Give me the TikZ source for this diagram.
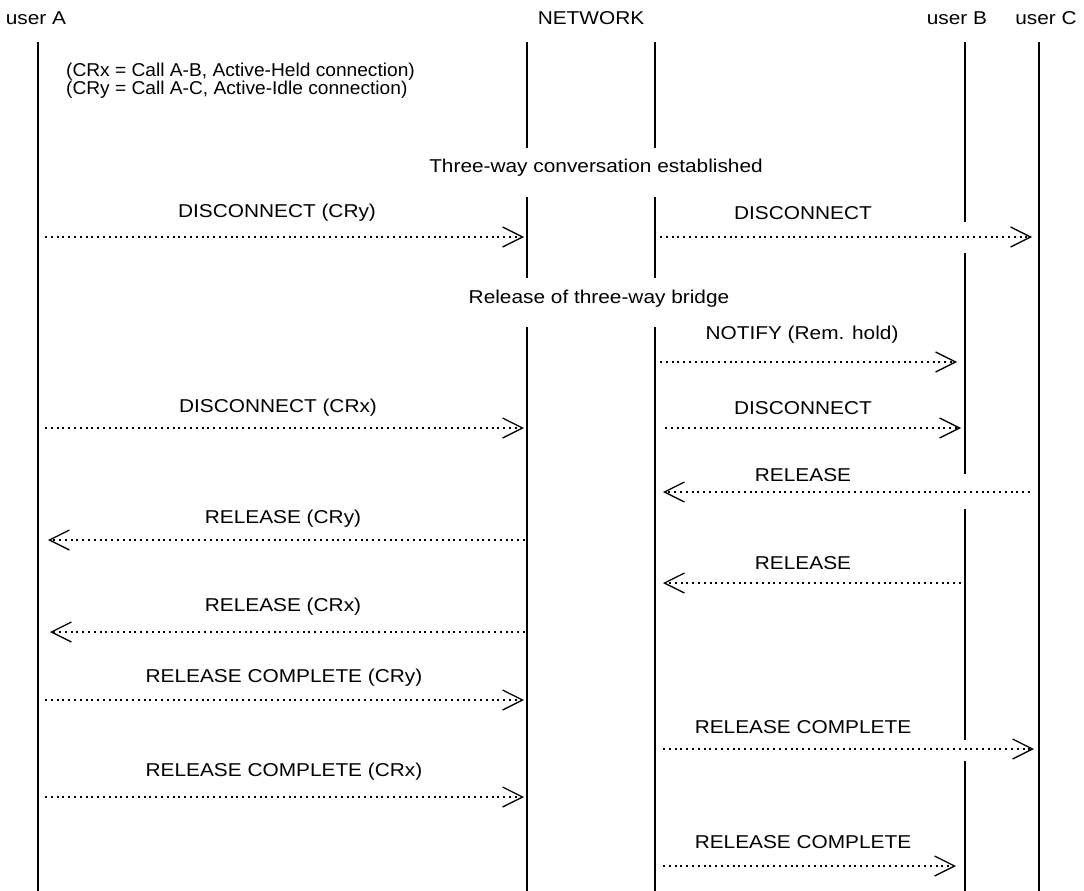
\documentclass[tikz,border=0pt]{standalone}
\usepackage{fontspec}
\setmainfont{Liberation Sans}[FakeStretch=1.12]
\newfontfamily\cmtfont{Liberation Sans}[FakeStretch=1.03]
\usetikzlibrary{arrows.meta}
\tikzset{
  life/.style={line width=1.6pt, black},
  msg/.style={line width=2.2pt, dash pattern=on 2pt off 3.8pt,
    -{Straight Barb[length=20pt,width=20pt,line width=1.3pt]}},
  lbl/.style={inner sep=0pt, font=\fontsize{18.6}{18}\selectfont},
}
\begin{document}
\begin{tikzpicture}[x=1pt,y=-1pt]
\useasboundingbox (0,0) rectangle (1084,891);
% headers
\node[lbl] (hA) at (36,18) {user A};
\node[lbl] (hN) at (591,18) {NETWORK};
\node[lbl] (hB) at (957,18) {user B};
\node[lbl] (hC) at (1046,18) {user C};
% lifelines
\draw[life] (38,42) -- (38,891);
\draw[life] (527,42) -- (527,148) (527,197) -- (527,278) (527,327) -- (527,891);
\draw[life] (655,42) -- (655,148) (655,197) -- (655,278) (655,327) -- (655,891);
\draw[life] (965,42) -- (965,222) (965,253) -- (965,474) (965,509) -- (965,740) (965,761) -- (965,891);
\draw[life] (1039,42) -- (1039,891);
% comments
\node[lbl, anchor=west, align=left, font=\fontsize{18.6}{18}\cmtfont] (cm) at (66,81) {(CRx = Call A-B, Active-Held connection)\\(CRy = Call A-C, Active-Idle connection)};
\node[lbl] (t1) at (596,168) {Three-way conversation established};
\node[lbl] (t2) at (599,299) {Release of three-way bridge};
% coordinates
\coordinate (a1) at (45,237);   \coordinate (b1) at (524,237);
\coordinate (a2) at (660,237);  \coordinate (b2) at (1032,237);
\coordinate (a3) at (660,362);  \coordinate (b3) at (957,362);
\coordinate (a4) at (45,428);   \coordinate (b4) at (524,428);
\coordinate (a5) at (665,428);  \coordinate (b5) at (961,428);
\coordinate (a6) at (1030,492); \coordinate (b6) at (663,492);
\coordinate (a7) at (525,540);  \coordinate (b7) at (48,540);
\coordinate (a8) at (961,583);  \coordinate (b8) at (663,583);
\coordinate (a9) at (525,632);  \coordinate (b9) at (50,632);
\coordinate (a10) at (45,700);  \coordinate (b10) at (524,700);
\coordinate (a11) at (663,749); \coordinate (b11) at (1034,749);
\coordinate (a12) at (45,797);  \coordinate (b12) at (524,797);
\coordinate (a13) at (663,866); \coordinate (b13) at (956,866);
% messages
\draw[msg] (a1) -- (b1);  \node[lbl] (l1) at (277,213) {DISCONNECT (CRy)};
\draw[msg] (a2) -- (b2);  \node[lbl] (l2) at (803,213) {DISCONNECT};
\draw[msg] (a3) -- (b3);  \node[lbl] (l3) at (802,335) {NOTIFY (Rem. hold)};
\draw[msg] (a4) -- (b4);  \node[lbl] (l4) at (278,408) {DISCONNECT (CRx)};
\draw[msg] (a5) -- (b5);  \node[lbl] (l5) at (803,408) {DISCONNECT};
\draw[msg] (a6) -- (b6);  \node[lbl] (l6) at (803,475) {RELEASE};
\draw[msg] (a7) -- (b7);  \node[lbl] (l7) at (283,519) {RELEASE (CRy)};
\draw[msg] (a8) -- (b8);  \node[lbl] (l8) at (803,563) {RELEASE};
\draw[msg] (a9) -- (b9);  \node[lbl] (l9) at (283,607) {RELEASE (CRx)};
\draw[msg] (a10) -- (b10); \node[lbl] (l10) at (284,678) {RELEASE COMPLETE (CRy)};
\draw[msg] (a11) -- (b11); \node[lbl] (l11) at (803,727) {RELEASE COMPLETE};
\draw[msg] (a12) -- (b12); \node[lbl] (l12) at (284,772) {RELEASE COMPLETE (CRx)};
\draw[msg] (a13) -- (b13); \node[lbl] (l13) at (803,842) {RELEASE COMPLETE};
\end{tikzpicture}
\end{document}
